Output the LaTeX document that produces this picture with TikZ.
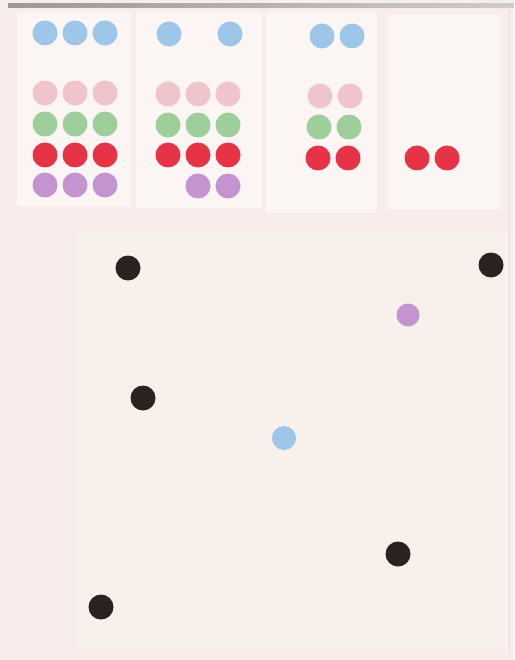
\documentclass[tikz,border=0pt]{standalone}
\definecolor{bgpink}{HTML}{F8EDEB}
\definecolor{panel}{HTML}{FBF5F3}
\definecolor{cream}{HTML}{F8F0EA}
\definecolor{dblue}{HTML}{9EC6E8}
\definecolor{dpink}{HTML}{EFC4CB}
\definecolor{dgreen}{HTML}{9ECF9A}
\definecolor{dred}{HTML}{E63446}
\definecolor{dpurple}{HTML}{C394CF}
\definecolor{dblack}{HTML}{2A2220}
\tikzset{
  dot/.style={circle, inner sep=0pt, minimum size=25pt, draw=none},
  bdot/.style={dot, fill=dblue},
  pdot/.style={dot, fill=dpink},
  gdot/.style={dot, fill=dgreen},
  rdot/.style={dot, fill=dred},
  vdot/.style={dot, fill=dpurple},
  kdot/.style={dot, fill=dblack},
  pane/.style={fill=panel, draw=none}
}
\begin{document}
\begin{tikzpicture}[x=1pt,y=-1pt]
\useasboundingbox (0,0) rectangle (514,660);
\fill[bgpink] (0,0) rectangle (514,660);
\shade[left color=gray!80, right color=gray!40] (8,4) rectangle (514,8);
% top panels
\fill[pane] (17,12) rectangle (131,206);
\fill[pane] (136,12) rectangle (262,208);
\fill[pane] (266,12) rectangle (377,213);
\fill[pane] (388,14) rectangle (500,210);
% bottom area
\fill[cream] (75,230) rectangle (508,650);
\draw[gray!25, line width=1pt] (509,10) -- (509,652);
% panel 1
\node[bdot] (a1) at (45,33) {};
\node[bdot] (a2) at (75,33) {};
\node[bdot] (a3) at (105,33) {};
\node[pdot] (a4) at (45,93) {};
\node[pdot] (a5) at (75,93) {};
\node[pdot] (a6) at (105,93) {};
\node[gdot] (a7) at (45,124) {};
\node[gdot] (a8) at (75,124) {};
\node[gdot] (a9) at (105,124) {};
\node[rdot] (a10) at (45,155) {};
\node[rdot] (a11) at (75,155) {};
\node[rdot] (a12) at (105,155) {};
\node[vdot] (a13) at (45,185) {};
\node[vdot] (a14) at (75,185) {};
\node[vdot] (a15) at (105,185) {};
% panel 2
\node[bdot] (b1) at (169,34) {};
\node[bdot] (b2) at (230,34) {};
\node[pdot] (b3) at (168,94) {};
\node[pdot] (b4) at (198,94) {};
\node[pdot] (b5) at (228,94) {};
\node[gdot] (b6) at (168,125) {};
\node[gdot] (b7) at (198,125) {};
\node[gdot] (b8) at (228,125) {};
\node[rdot] (b9) at (168,155) {};
\node[rdot] (b10) at (198,155) {};
\node[rdot] (b11) at (228,155) {};
\node[vdot] (b12) at (198,186) {};
\node[vdot] (b13) at (228,186) {};
% panel 3
\node[bdot] (c1) at (322,36) {};
\node[bdot] (c2) at (352,36) {};
\node[pdot] (c3) at (320,96) {};
\node[pdot] (c4) at (350,96) {};
\node[gdot] (c5) at (319,127) {};
\node[gdot] (c6) at (349,127) {};
\node[rdot] (c7) at (318,158) {};
\node[rdot] (c8) at (348,158) {};
% panel 4
\node[rdot] (d1) at (417,158) {};
\node[rdot] (d2) at (447,158) {};
% bottom scatter
\node[kdot] (k1) at (128,268) {};
\node[kdot] (k2) at (491,265) {};
\node[kdot] (k3) at (143,398) {};
\node[kdot] (k4) at (398,554) {};
\node[kdot] (k5) at (101,607) {};
\node[vdot, minimum size=23pt] (v1) at (408,315) {};
\node[bdot, minimum size=24pt] (u1) at (284,438) {};
\end{tikzpicture}
\end{document}
